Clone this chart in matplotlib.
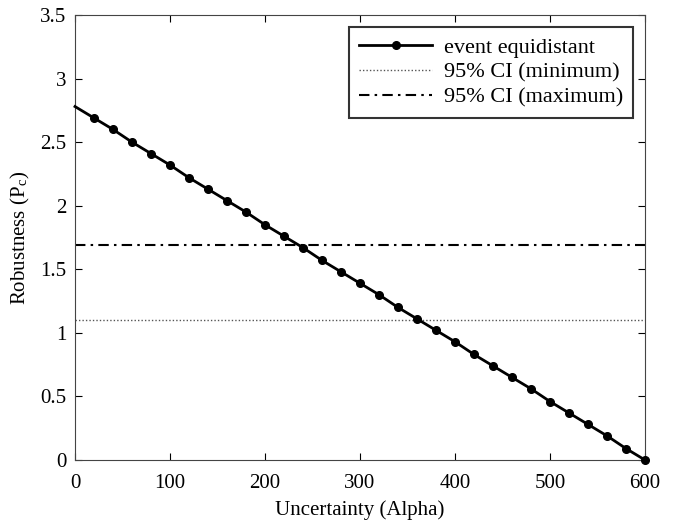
import matplotlib
matplotlib.use("Agg")
import matplotlib.pyplot as plt

plt.rcParams['font.family'] = ['Liberation Serif', 'DejaVu Serif']
plt.rcParams['mathtext.fontset'] = 'stix'

alpha = [0, 20, 40, 60, 80, 100, 120, 140, 160, 180, 200, 220, 240, 260, 280, 300,
         320, 340, 360, 380, 400, 420, 440, 460, 480, 500, 520, 540, 560, 580, 600]
robust = [2.78, 2.69, 2.60, 2.50, 2.41, 2.32, 2.22, 2.13, 2.04, 1.95, 1.85, 1.76, 1.67,
          1.57, 1.48, 1.39, 1.30, 1.20, 1.11, 1.02, 0.93, 0.83, 0.74, 0.65, 0.56, 0.46,
          0.37, 0.28, 0.19, 0.09, 0.0]
ci_min = 1.10
ci_max = 1.69
xticks = [0, 100, 200, 300, 400, 500, 600]
yticks = [0, 0.5, 1, 1.5, 2, 2.5, 3, 3.5]

fig = plt.figure(figsize=(6.76, 5.21), dpi=100)
ax = fig.add_axes([75/676, 61/521, 570/676, 445/521])

ax.plot(alpha, robust, color='black', lw=2, marker='o', ms=5.5,
        markevery=list(range(1, len(alpha))), label='event equidistant', clip_on=False, zorder=5)
ax.axhline(ci_min, color='#555555', lw=1, ls=(0, (1, 1.5)), label='95% CI (minimum)')
ax.axhline(ci_max, color='black', lw=1.5, ls=(0, (5, 2.5, 1.2, 2.5)), label='95% CI (maximum)')

ax.set_xlim(0, 600)
ax.set_ylim(0, 3.5)
ax.set_xticks(xticks)
ax.set_yticks(yticks)
ax.set_yticklabels(['0', '0.5', '1', '1.5', '2', '2.5', '3', '3.5'])
ax.tick_params(direction='in', labelsize=15, length=5, top=True, right=True, pad=6)
ax.tick_params(axis='x', pad=10)
for s in ax.spines.values():
    s.set_color('#444444')
ax.set_xlabel('Uncertainty (Alpha)', fontsize=15, labelpad=5)
ax.set_ylabel(r'Robustness (P$_\mathregular{c}$)', fontsize=15, labelpad=6)

leg = ax.legend(loc='upper right', fontsize=16, frameon=True, fancybox=False,
                edgecolor='black', handlelength=3.3, borderaxespad=0.55,
                labelspacing=0.2, handletextpad=0.5, borderpad=0.45)
leg.get_frame().set_linewidth(1.5)

fig.savefig('out.png', dpi=100)
